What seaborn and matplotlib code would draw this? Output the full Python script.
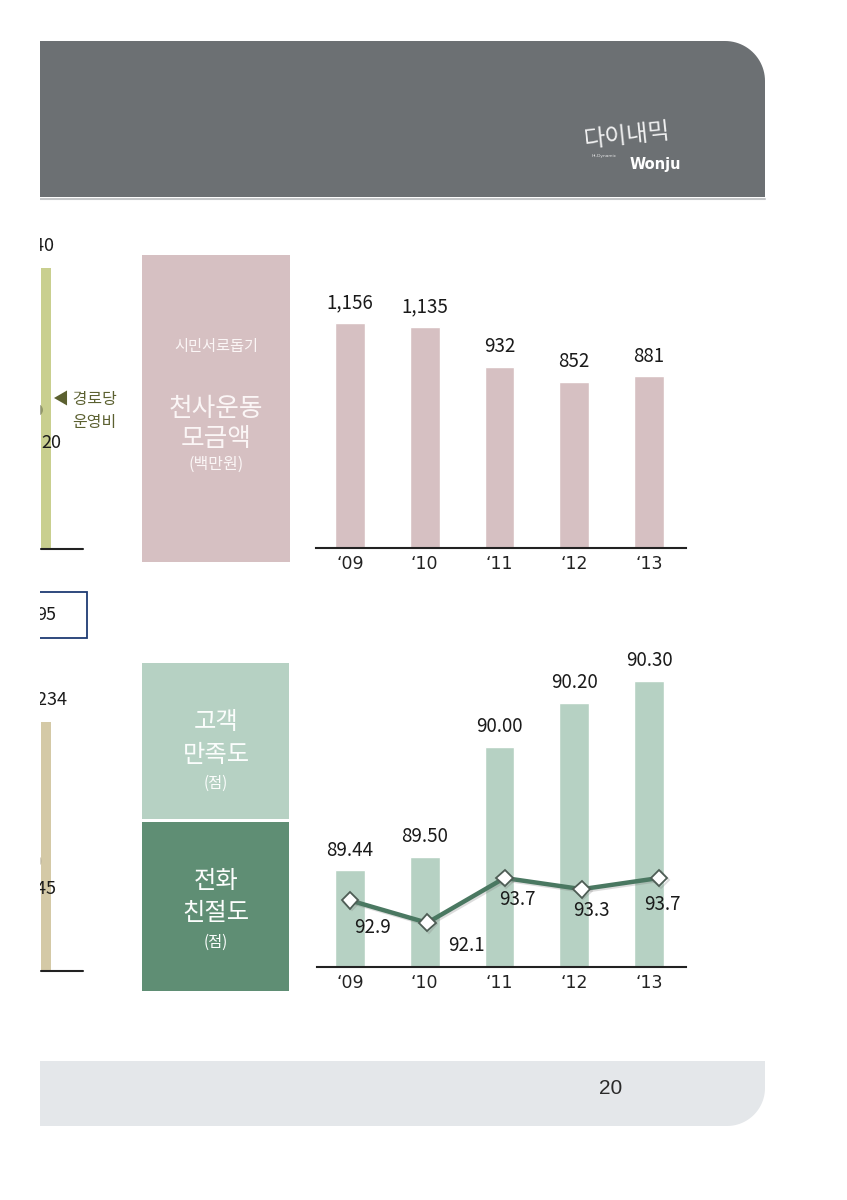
import numpy as np
import pandas as pd
import matplotlib
matplotlib.use("Agg")
import matplotlib.pyplot as plt
import seaborn as sns
from matplotlib.patches import Rectangle, Polygon, Circle
import matplotlib.patheffects as pe

# ---------------- data ----------------
years = ["\u201809", "\u201810", "\u201811", "\u201812", "\u201813"]
donations = [1156, 1135, 932, 852, 881]            # 천사운동 모금액 (백만원)
satisfaction = [89.44, 89.50, 90.00, 90.20, 90.30]  # 고객 만족도 (점)
phone_kindness = [92.9, 92.1, 93.7, 93.3, 93.7]     # 전화 친절도 (점)

# label offsets (points) for the line values, styling only
line_label_offsets = [(16.6, -19.4), (28.0, -16.6), (9.4, -15.8), (7.2, -15.1), (2.2, -19.4)]

sns.set_theme(style="white")
plt.rcParams['font.family'] = ['Noto Sans CJK KR', 'DejaVu Sans']

W, H = 847, 1200
fig = plt.figure(figsize=(W / 100, H / 100), dpi=100)
fig.patch.set_facecolor("white")

page = fig.add_axes([0, 0, 1, 1])
page.set_xlim(0, W)
page.set_ylim(H, 0)
page.axis('off')


def rect_px(x0, y0, x1, y1):
    return [x0 / W, 1 - y1 / H, (x1 - x0) / W, (y1 - y0) / H]


def band(x0, y0, x1, y1, r, corner):
    t = np.linspace(0, np.pi / 2, 24)
    if corner == 'tr':
        cx, cy = x1 - r, y0 + r
        arc = [(cx + r * np.sin(a), cy - r * np.cos(a)) for a in t]
        verts = [(x0, y0)] + arc + [(x1, y1), (x0, y1)]
    else:
        cx, cy = x1 - r, y1 - r
        arc = [(cx + r * np.cos(a), cy + r * np.sin(a)) for a in t]
        verts = [(x0, y0), (x1, y0)] + arc + [(x0, y1)]
    return verts


# header band
page.add_patch(Polygon(band(40, 41, 765, 197, 40, 'tr'), closed=True,
                       facecolor='#6c7073', edgecolor='none', zorder=1))
page.plot([40, 765], [198.5, 198.5], color='#c4c6c8', lw=1.5, zorder=1)
# footer band
page.add_patch(Polygon(band(40, 1061, 765, 1126, 38, 'br'), closed=True,
                       facecolor='#e4e7ea', edgecolor='none', zorder=1))
page.text(611, 1089, "20", fontsize=15, color='#2a2a2a', family='Liberation Sans',
          ha='center', va='center', zorder=3)

# logo
page.text(627, 136, "다이내믹", color='white', fontsize=17, rotation=6,
          ha='center', va='center', fontweight='light', zorder=3, alpha=0.9)
page.text(617, 156, "Hi-Dynamic", color='white', fontsize=3.2,
          family='DejaVu Sans', ha='right', va='center', zorder=3, alpha=0.8)
page.text(655, 165, "Wonju", color='white', fontsize=10.5, fontweight='bold',
          family='DejaVu Sans', ha='center', va='center', zorder=3)

# title boxes
page.add_patch(Rectangle((142, 255), 148, 307, facecolor='#d6c0c2', edgecolor='none', zorder=1))
page.text(216, 347, "시민서로돕기", color='#fbf6f6', fontsize=11, ha='center', va='center', zorder=3)
page.text(216, 409, "천사운동", color='#fbf6f6', fontsize=18.5, ha='center', va='center', zorder=3)
page.text(216, 439, "모금액", color='#fbf6f6', fontsize=18.5, ha='center', va='center', zorder=3)
page.text(216, 464, "(백만원)", color='#fbf6f6', fontsize=11.5, ha='center', va='center', zorder=3)

page.add_patch(Rectangle((142, 663), 147, 156, facecolor='#b6d1c3', edgecolor='none', zorder=1))
page.text(216, 722, "고객", color='#fbfdfc', fontsize=17.5, ha='center', va='center', zorder=3)
page.text(216, 755, "만족도", color='#fbfdfc', fontsize=17.5, ha='center', va='center', zorder=3)
page.text(216, 783, "(점)", color='#fbfdfc', fontsize=11, ha='center', va='center', zorder=3)

page.add_patch(Rectangle((142, 822), 147, 169, facecolor='#5f8e74', edgecolor='none', zorder=1))
page.text(216, 881, "전화", color='#fbfdfc', fontsize=17.5, ha='center', va='center', zorder=3)
page.text(216, 913, "친절도", color='#fbfdfc', fontsize=17.5, ha='center', va='center', zorder=3)
page.text(216, 942, "(점)", color='#fbfdfc', fontsize=11, ha='center', va='center', zorder=3)

# remnants of the neighbouring page charts on the left edge
page.add_patch(Rectangle((41, 268), 10, 281, facecolor='#c9cf8f', edgecolor='none', zorder=2))
page.add_patch(Rectangle((41, 722), 10, 248, facecolor='#d4c9a6', edgecolor='none', zorder=2))
page.plot([41, 83], [549, 549], color='#222222', lw=1.5, zorder=3)
page.plot([41, 83], [971, 971], color='#222222', lw=1.5, zorder=3)
page.add_patch(Circle((37, 410), 6, facecolor='#6f7450', edgecolor='none', alpha=0.6, zorder=3))
page.add_patch(Circle((37, 861), 5, facecolor='#b9b29a', edgecolor='none', alpha=0.6, zorder=3))
page.text(54, 246, "240", fontsize=13, color='#1a1a1a', ha='right', va='center', zorder=4)
page.text(61, 443, "20", fontsize=13, color='#1a1a1a', ha='right', va='center', zorder=4)
page.text(67, 700, "1,234", fontsize=13, color='#1a1a1a', ha='right', va='center', zorder=4)
page.text(56, 889, "145", fontsize=13, color='#1a1a1a', ha='right', va='center', zorder=4)
page.text(56, 615, "95", fontsize=13, color='#1a1a1a', ha='right', va='center', zorder=4)
page.add_patch(Rectangle((20, 592), 67, 46, facecolor='none', edgecolor='#1f3b73', lw=1.3, zorder=4))
page.text(53, 400, "◀ 경로당", fontsize=11.5, color='#5b6030', ha='left', va='center',
          family=['Noto Sans CJK KR', 'DejaVu Sans'], zorder=4)
page.text(72, 423, "운영비", fontsize=11.5, color='#5b6030', ha='left', va='center', zorder=4)
page.add_patch(Rectangle((0, 0), 40, H, facecolor='white', edgecolor='none', zorder=10))


def style_axis(ax):
    ax.patch.set_alpha(0)
    for s in ['left', 'right', 'top']:
        ax.spines[s].set_visible(False)
    ax.spines['bottom'].set_color('#222222')
    ax.spines['bottom'].set_linewidth(1.5)
    ax.set_yticks([])
    ax.set_xlabel('')
    ax.set_ylabel('')
    ax.tick_params(axis='x', length=0, pad=5, labelsize=12.5, colors='#222222')
    for lbl in ax.get_xticklabels():
        lbl.set_family('DejaVu Sans')


# ---------------- top chart: donations ----------------
ax1 = fig.add_axes(rect_px(316, 255, 686, 548))
df1 = pd.DataFrame({'year': years, 'value': donations})
sns.barplot(data=df1, x='year', y='value', color='#d6c0c2', saturation=1,
            width=0.4, ax=ax1)
ax1.set_xlim(-0.453, 4.493)
ax1.set_ylim(0, 1505)
style_axis(ax1)
for i, v in enumerate(donations):
    ax1.annotate(f"{v:,}", (i, v), xytext=(0, 14.5), textcoords='offset points',
                 ha='center', va='center', fontsize=13.5, color='#1a1a1a')

# ---------------- bottom chart: satisfaction + phone kindness ----------------
ax2 = fig.add_axes(rect_px(317, 660, 686, 967))
df2 = pd.DataFrame({'year': years, 'sat': satisfaction,
                    'pos': np.arange(len(years)), 'phone': phone_kindness})
sns.barplot(data=df2, x='year', y='sat', color='#b6d1c3', saturation=1,
            width=0.4, ax=ax2)
ax2.set_xlim(-0.44, 4.493)
ax2.set_ylim(89.0, 90.395)
style_axis(ax2)
for i, v in enumerate(satisfaction):
    ax2.annotate(f"{v:.2f}", (i, v), xytext=(0, 14.5), textcoords='offset points',
                 ha='center', va='center', fontsize=13.5, color='#1a1a1a')

ax3 = fig.add_axes(rect_px(317, 660, 686, 967))
ax3.patch.set_alpha(0)
sns.lineplot(data=df2, x='pos', y='phone', ax=ax3, color='#4a7861', lw=3.2,
             marker='D', markersize=8.5, markerfacecolor='white',
             markeredgecolor='#4e5d55', markeredgewidth=1.3)
for ln in ax3.get_lines():
    ln.set_path_effects([pe.SimpleLineShadow(offset=(1.2, -1.2), shadow_color='#777777', alpha=0.25),
                         pe.Normal()])
ax3.set_xlim(-0.426, 4.348)
ax3.set_ylim(90.521, 101.485)
ax3.axis('off')
for i, v in enumerate(phone_kindness):
    ax3.annotate(f"{v:.1f}", (i, v), xytext=line_label_offsets[i], textcoords='offset points',
                 ha='center', va='center', fontsize=13.5, color='#1a1a1a')

fig.savefig("out.png", dpi=100, facecolor='white')
